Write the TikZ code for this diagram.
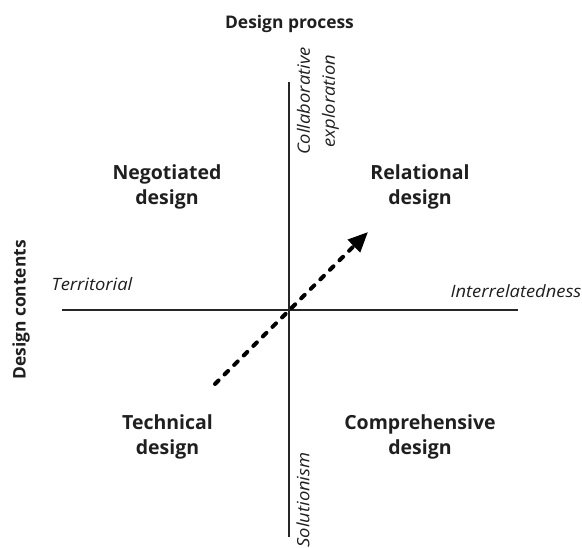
\documentclass[tikz,border=0pt]{standalone}
\usepackage{fontspec}
\setmainfont{Open Sans}
\newfontfamily\polefont[FakeStretch=1.08]{Open Sans}
\usetikzlibrary{arrows.meta}
\tikzset{
axisline/.style={draw=black!85, line width=1.3pt},
quadrant/.style={font=\bfseries\fontsize{19.5}{25}\selectfont, text=black!88, align=center},
heading/.style={font=\bfseries\fontsize{17.4}{20}\selectfont, text=black!88},
pole/.style={font=\polefont\itshape\fontsize{17}{25}\selectfont, text=black!88, align=center},
shift arrow/.style={line width=4pt, line cap=round, dash pattern=on 5pt off 8.5pt, -{Triangle[length=20pt,width=17pt]}}
}
\newcommand{\quadname}[4]{%
\node[quadrant] (#3) at (#1,#2) {#4};
}

\begin{document}
\begin{tikzpicture}[x=1pt,y=1pt]

\useasboundingbox (0,0) rectangle (582,548);

% axes
\coordinate (top) at (289,466);
\coordinate (bottom) at (289,11);
\coordinate (left) at (62,238);
\coordinate (right) at (518,238);
\draw[axisline] (top) -- (bottom);
\draw[axisline] (left) -- (right);



\node[heading] (process) at (289.5,524) {Design process};
\node[heading, rotate=90] (contents) at (21,238) {Design contents};



\node[pole, rotate=90] (collab) at (318,447) {Collaborative\\exploration};
\node[pole, rotate=90] (solution) at (303,48) {Solutionism};
\node[pole] (territorial) at (92,264) {Territorial};
\node[pole] (interrel) at (516,257) {Interrelatedness};



\quadname{167}{361}{negotiated}{Negotiated\\design}
\quadname{420}{361}{relational}{Relational\\design}
\quadname{167.5}{111}{technical}{Technical\\design}
\quadname{420}{111}{comprehensive}{Comprehensive\\design}


% shift
\coordinate (from) at (215,164);
\coordinate (to) at (368,316);
\draw[shift arrow] (from) -- (to);

\end{tikzpicture}
\end{document}
